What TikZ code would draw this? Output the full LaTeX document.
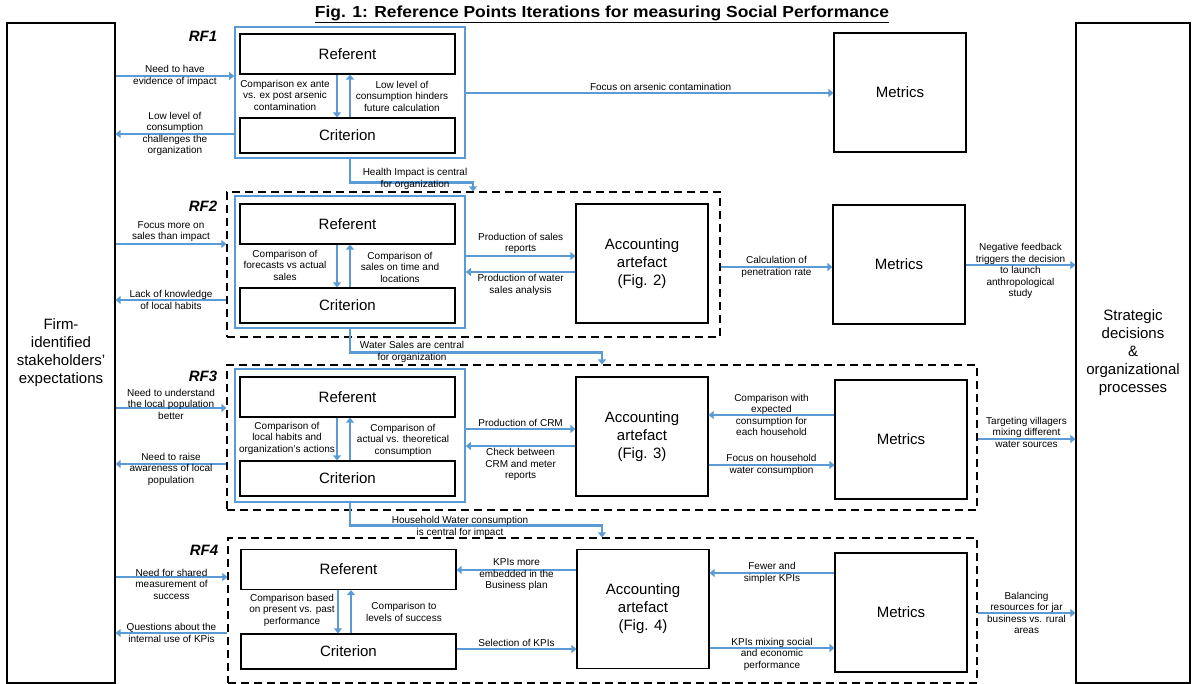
\documentclass[tikz,border=0pt]{standalone}
\usepackage{graphicx}
\usepackage{fontspec}
\setmainfont{Liberation Sans}
\usetikzlibrary{arrows.meta}
\definecolor{flowblue}{RGB}{91,155,213}
\begin{document}
\begin{tikzpicture}[x=1pt,y=-1pt,
  box/.style={draw,line width=1.2pt,inner sep=0pt,align=center,font=\fontsize{15}{18}\selectfont},
  refbox/.style={box,minimum width=215pt,minimum height=40pt},
  critbox/.style={box,minimum width=215pt,minimum height=35pt},
  artbox/.style={box,minimum width=132pt,minimum height=119pt},
  sidebox/.style={box,minimum height=660pt},
  bluebox/.style={draw=flowblue,line width=1.6pt,minimum width=230pt,inner sep=0pt},
  dashbox/.style={draw,line width=1.2pt,dash pattern=on 8pt off 5pt,inner sep=0pt,minimum height=145pt},
  rf/.style={font=\fontsize{15}{18}\selectfont\bfseries\itshape},
  lbl/.style={font=\fontsize{10}{11.5}\selectfont,align=center,inner sep=1pt},
  flow/.style={draw=flowblue,line width=2.8pt,-{Triangle[length=5pt,width=8pt]}}]
  \useasboundingbox (0,0) rectangle (1197,684);
  \node[font=\fontsize{16}{18}\selectfont\bfseries] (title) at (602,14) {\scalebox{1.09}[1]{\underline{Fig. 1: Reference Points Iterations for measuring Social Performance}}};
  % side boxes
  \node[sidebox,minimum width=108pt] (stake) at (61,353) {Firm-\\identified\\stakeholders'\\expectations};
  \node[sidebox,minimum width=114pt] (strat) at (1133,353) {Strategic\\decisions\\\&\\organizational\\processes};
  % dashed frames
  \node[dashbox,minimum width=493pt] (dash2) at (473.5,264.5) {};
  \node[dashbox,minimum width=750pt] (dash3) at (602,437.5) {};
  \node[dashbox,minimum width=749pt] (dash4) at (602.5,610.5) {};
  % blue frames
  \node[bluebox,minimum height=131pt] (blue1) at (350,92.5) {};
  \node[bluebox,minimum height=132pt] (blue2) at (350,262) {};
  \node[bluebox,minimum height=133pt] (blue3) at (350,435.5) {};
  % RF1
  \node[rf] (rf1) at (203,36) {RF1};
  \node[refbox] (ref1) at (347.5,54) {Referent};
  \node[critbox] (crit1) at (347.5,135.5) {Criterion};
  \node[artbox] (metrics1) at (900,92.5) {Metrics};
  % RF2
  \node[rf] (rf2) at (203,206) {RF2};
  \node[refbox] (ref2) at (347.5,224) {Referent};
  \node[critbox] (crit2) at (347.5,305.5) {Criterion};
  \node[artbox] (acc2) at (642,263.5) {Accounting\\artefact\\(Fig. 2)};
  \node[artbox] (metrics2) at (899,264.5) {Metrics};
  % RF3
  \node[rf] (rf3) at (203,376) {RF3};
  \node[refbox] (ref3) at (347.5,397) {Referent};
  \node[critbox] (crit3) at (347.5,478.5) {Criterion};
  \node[artbox] (acc3) at (642,436.5) {Accounting\\artefact\\(Fig. 3)};
  \node[artbox] (metrics3) at (901,439.5) {Metrics};
  % RF4
  \node[rf] (rf4) at (204,550) {RF4};
  \node[refbox] (ref4) at (348.5,569.5) {Referent};
  \node[critbox] (crit4) at (348.5,651.5) {Criterion};
  \node[artbox] (acc4) at (643,609) {Accounting\\artefact\\(Fig. 4)};
  \node[artbox] (metrics4) at (901,612.5) {Metrics};

  \draw[flow] (stake.east |- 0,76) -- (blue1.west |- 0,76) node[lbl,midway]{Need to have\\evidence of impact};
  \draw[flow] (blue1.west |- 0,134) -- (stake.east |- 0,134) node[lbl,midway]{Low level of\\consumption\\challenges the\\organization};
  \draw[flow] (ref1.south -| 337,0) -- (crit1.north -| 337,0);
  \draw[flow] (crit1.north -| 350,0) -- (ref1.south -| 350,0);
  \node[lbl] (cmp1a) at (285,95) {Comparison ex ante\\vs. ex post arsenic\\contamination};
  \node[lbl] (cmp1b) at (402,96) {Low level of\\consumption hinders\\future calculation};
  \draw[flow] (blue1.east |- 0,93) -- (metrics1.west |- 0,93) node[lbl,pos=0.53,above]{Focus on arsenic contamination};
  \draw[flow] (blue1.south -| 350,0) -- ++(0,24) -| (dash2.north -| 473,0);
  \node[lbl] (cent1) at (415,179) {Health Impact is central\\for organization};

  \draw[flow] (stake.east |- 0,244) -- (dash2.west |- 0,244) node[lbl,midway,above]{Focus more on\\sales than impact};
  \draw[flow] (dash2.west |- 0,300) -- (stake.east |- 0,300) node[lbl,midway]{Lack of knowledge\\of local habits};
  \draw[flow] (ref2.south -| 337,0) -- (crit2.north -| 337,0);
  \draw[flow] (crit2.north -| 350,0) -- (ref2.south -| 350,0);
  \node[lbl] (cmp2a) at (285,265) {Comparison of\\forecasts vs actual\\sales};
  \node[lbl] (cmp2b) at (400,267) {Comparison of\\sales on time and\\locations};
  \draw[flow] (blue2.east |- 0,256) -- (acc2.west |- 0,256) node[lbl,midway,above]{Production of sales\\reports};
  \draw[flow] (acc2.west |- 0,272) -- (blue2.east |- 0,272) node[lbl,midway,below]{Production of water\\sales analysis};
  \draw[flow] (dash2.east |- 0,267) -- (metrics2.west |- 0,267) node[lbl,midway]{Calculation of\\penetration rate};
  \draw[flow] (metrics2.east |- 0,265) -- (strat.west |- 0,265) node[lbl,midway,yshift=-6pt]{Negative feedback\\triggers the decision\\to launch\\anthropological\\study};
  \draw[flow] (blue2.south -| 350,0) -- ++(0,24) -| (dash3.north -| 602,0);
  \node[lbl] (cent2) at (412,352) {Water Sales are central\\for organization};

  \draw[flow] (stake.east |- 0,408) -- (dash3.west |- 0,408) node[lbl,midway,yshift=4pt]{Need to understand\\the local population\\better};
  \draw[flow] (dash3.west |- 0,464) -- (stake.east |- 0,464) node[lbl,midway,yshift=-5pt]{Need to raise\\awareness of local\\population};
  \draw[flow] (ref3.south -| 337,0) -- (crit3.north -| 337,0);
  \draw[flow] (crit3.north -| 350,0) -- (ref3.south -| 350,0);
  \node[lbl] (cmp3a) at (287,438) {Comparison of\\local habits and\\organization's actions};
  \node[lbl] (cmp3b) at (403,440) {Comparison of\\actual vs. theoretical\\consumption};
  \draw[flow] (blue3.east |- 0,429) -- (acc3.west |- 0,429) node[lbl,midway,above]{Production of CRM};
  \draw[flow] (acc3.west |- 0,446) -- (blue3.east |- 0,446) node[lbl,midway,below]{Check between\\CRM and meter\\reports};
  \draw[flow] (metrics3.west |- 0,415) -- (acc3.east |- 0,415) node[lbl,midway]{Comparison with\\expected\\consumption for\\each household};
  \draw[flow] (acc3.east |- 0,465) -- (metrics3.west |- 0,465) node[lbl,midway]{Focus on household\\water consumption};
  \draw[flow] (dash3.east |- 0,439) -- (strat.west |- 0,439) node[lbl,midway,yshift=7pt]{Targeting villagers\\mixing different\\water sources};
  \draw[flow] (blue3.south -| 350,0) -- ++(0,23) -| (dash4.north -| 602,0);
  \node[lbl] (cent3) at (460,527) {Household Water consumption\\is central for impact};

  \draw[flow] (stake.east |- 0,577) -- (dash4.west |- 0,577) node[lbl,midway,yshift=-7pt]{Need for shared\\measurement of\\success};
  \draw[flow] (dash4.west |- 0,633) -- (stake.east |- 0,633) node[lbl,midway]{Questions about the\\internal use of KPis};
  \draw[flow] (ref4.south -| 338,0) -- (crit4.north -| 338,0);
  \draw[flow] (crit4.north -| 351,0) -- (ref4.south -| 351,0);
  \node[lbl] (cmp4a) at (292,610) {Comparison based\\on present vs. past\\performance};
  \node[lbl] (cmp4b) at (404,612) {Comparison to\\levels of success};
  \draw[flow] (acc4.west |- 0,570) -- (ref4.east |- 0,570) node[lbl,midway,yshift=-5pt]{KPIs more\\embedded in the\\Business plan};
  \draw[flow] (crit4.east |- 0,649) -- (acc4.west |- 0,649) node[lbl,midway,above]{Selection of KPIs};
  \draw[flow] (metrics4.west |- 0,573) -- (acc4.east |- 0,573) node[lbl,midway]{Fewer and\\simpler KPIs};
  \draw[flow] (acc4.east |- 0,648) -- (metrics4.west |- 0,648) node[lbl,midway,yshift=-6pt]{KPIs mixing social\\and economic\\performance};
  \draw[flow] (dash4.east |- 0,613) -- (strat.west |- 0,613) node[lbl,midway]{Balancing\\resources for jar\\business vs. rural\\areas};
\end{tikzpicture}
\end{document}
